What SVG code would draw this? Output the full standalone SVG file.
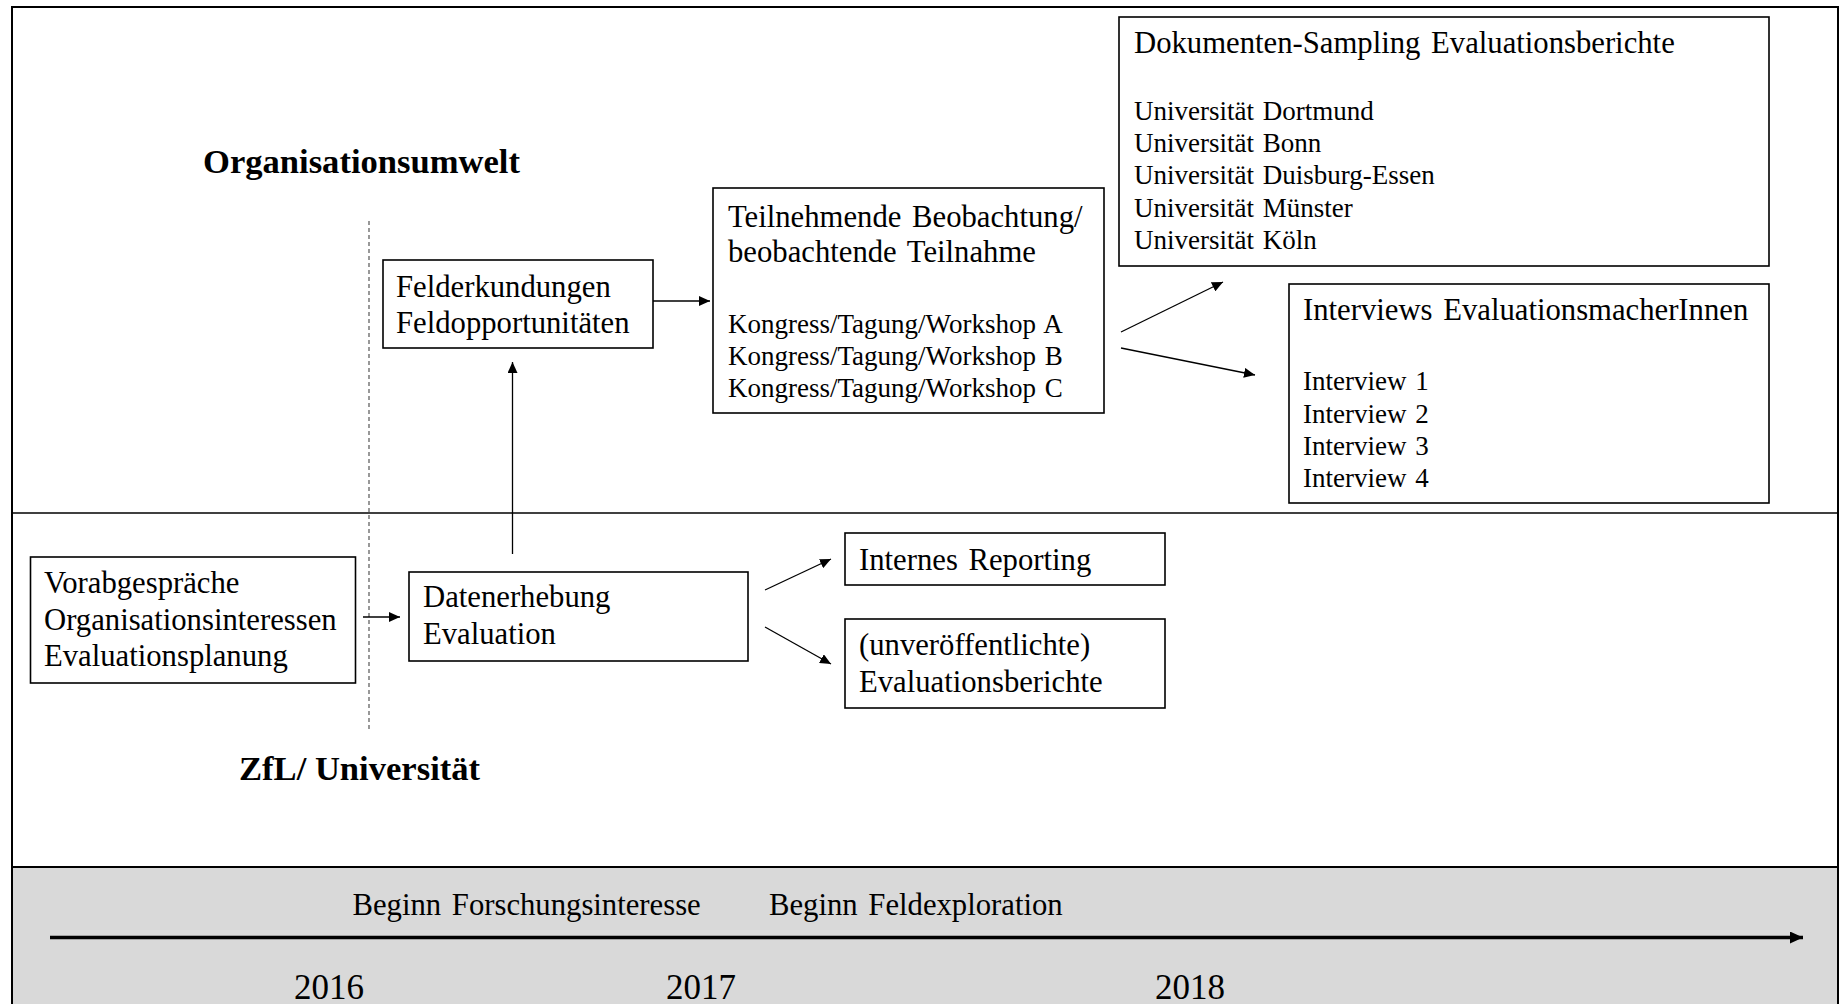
<svg xmlns="http://www.w3.org/2000/svg" width="1843" height="1004" viewBox="0 0 1843 1004">
  <style>
    text { font-family: "Liberation Serif", "Times New Roman", serif; fill: #000; }
    .h { font-size: 30.7px; word-spacing: 3px; }
    .s { font-size: 27px; word-spacing: 2px; }
    .b { font-size: 34.6px; font-weight: bold; }
    .yr { font-size: 35px; }
    .box { fill: #fff; stroke: #000; stroke-width: 1.6; }
    .conn { stroke: #000; stroke-width: 1.3; fill: none; marker-end: url(#arrow); }
  </style>
  <defs>
    <marker id="arrow" markerUnits="userSpaceOnUse" markerWidth="12" markerHeight="10" refX="11" refY="5" orient="auto">
      <path d="M0,0 L11,5 L0,10 z" fill="#000"/>
    </marker>
    <marker id="bigArrow" markerUnits="userSpaceOnUse" markerWidth="14" markerHeight="12" refX="13" refY="6" orient="auto">
      <path d="M0,0 L13,6 L0,12 z" fill="#000"/>
    </marker>
  </defs>

  <!-- background and frame -->
  <rect x="0" y="0" width="1843" height="1004" fill="#fff"/>
  <rect x="12" y="7" width="1826" height="1010" fill="#fff" stroke="#000" stroke-width="2"/>
  <!-- boundary between environment and organisation -->
  <line x1="12" y1="513" x2="1838" y2="513" stroke="#000" stroke-width="1.6"/>
  <!-- dashed start marker -->
  <line x1="369" y1="221" x2="369" y2="731" stroke="#555" stroke-width="1.2" stroke-dasharray="4,3"/>

  <!-- area titles -->
  <text class="b" x="203" y="173">Organisationsumwelt</text>
  <text class="b" x="239" y="780">ZfL/ Universität</text>

  <!-- timeline band -->
  <g id="timeline">
    <rect x="12" y="867" width="1826" height="150" fill="#d9d9d9" stroke="#000" stroke-width="2"/>
    <line x1="50" y1="937.5" x2="1803" y2="937.5" stroke="#000" stroke-width="3.5" marker-end="url(#bigArrow)"/>
    <text class="h" x="352.5" y="915">Beginn Forschungsinteresse</text>
    <text class="h" x="769" y="915">Beginn Feldexploration</text>
    <text class="yr" x="294" y="999">2016</text>
    <text class="yr" x="666" y="999">2017</text>
    <text class="yr" x="1155" y="999">2018</text>
  </g>

  <!-- nodes -->
  <g id="vorab">
    <rect class="box" x="30.5" y="557" width="325" height="126"/>
    <text class="h" x="44" y="593">Vorabgespräche</text>
    <text class="h" x="44" y="630">Organisationsinteressen</text>
    <text class="h" x="44" y="666">Evaluationsplanung</text>
  </g>
  <g id="datenerhebung">
    <rect class="box" x="409" y="572" width="339" height="89"/>
    <text class="h" x="423" y="607">Datenerhebung</text>
    <text class="h" x="423" y="644">Evaluation</text>
  </g>
  <g id="felderkundungen">
    <rect class="box" x="383" y="260" width="270" height="88"/>
    <text class="h" x="396" y="297">Felderkundungen</text>
    <text class="h" x="396" y="333">Feldopportunitäten</text>
  </g>
  <g id="teilnehmende">
    <rect class="box" x="713" y="188" width="391" height="225"/>
    <text class="h" x="728" y="227">Teilnehmende Beobachtung/</text>
    <text class="h" x="728" y="262">beobachtende Teilnahme</text>
    <text class="s" x="728" y="333">Kongress/Tagung/Workshop A</text>
    <text class="s" x="728" y="365">Kongress/Tagung/Workshop B</text>
    <text class="s" x="728" y="397">Kongress/Tagung/Workshop C</text>
  </g>
  <g id="dokumente">
    <rect class="box" x="1119" y="17" width="650" height="249"/>
    <text class="h" x="1134" y="53">Dokumenten-Sampling Evaluationsberichte</text>
    <text class="s" x="1134" y="120">Universität Dortmund</text>
    <text class="s" x="1134" y="152">Universität Bonn</text>
    <text class="s" x="1134" y="184">Universität Duisburg-Essen</text>
    <text class="s" x="1134" y="217">Universität Münster</text>
    <text class="s" x="1134" y="249">Universität Köln</text>
  </g>
  <g id="interviews">
    <rect class="box" x="1289" y="284" width="480" height="219"/>
    <text class="h" x="1303" y="320">Interviews EvaluationsmacherInnen</text>
    <text class="s" x="1303" y="390">Interview 1</text>
    <text class="s" x="1303" y="423">Interview 2</text>
    <text class="s" x="1303" y="455">Interview 3</text>
    <text class="s" x="1303" y="487">Interview 4</text>
  </g>
  <g id="reporting">
    <rect class="box" x="845" y="533" width="320" height="52"/>
    <text class="h" x="859" y="570">Internes Reporting</text>
  </g>
  <g id="berichte">
    <rect class="box" x="845" y="619" width="320" height="89"/>
    <text class="h" x="859" y="655">(unveröffentlichte)</text>
    <text class="h" x="859" y="692">Evaluationsberichte</text>
  </g>

  <!-- connectors -->
  <g id="connectors">
    <line class="conn" x1="363" y1="617" x2="400" y2="617"/>
    <line class="conn" x1="512.5" y1="554" x2="512.5" y2="362"/>
    <line class="conn" x1="653" y1="301" x2="710" y2="301"/>
    <line class="conn" x1="1121" y1="332" x2="1223" y2="282"/>
    <line class="conn" x1="1121" y1="348" x2="1255" y2="375"/>
    <line class="conn" x1="765" y1="590" x2="831" y2="559"/>
    <line class="conn" x1="765" y1="627" x2="831" y2="664"/>
  </g>
</svg>
